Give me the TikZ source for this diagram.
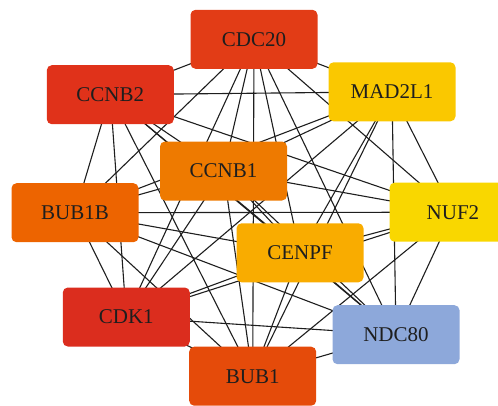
\documentclass[tikz,border=0pt]{standalone}
\usepackage{fontspec}
\setmainfont{Liberation Serif}
\usetikzlibrary{backgrounds}
\definecolor{cCDC}{RGB}{226,60,22}
\definecolor{cCCNBtwo}{RGB}{224,50,26}
\definecolor{cMAD}{RGB}{250,200,0}
\definecolor{cCCNBone}{RGB}{238,122,0}
\definecolor{cBUBB}{RGB}{237,100,0}
\definecolor{cNUF}{RGB}{249,215,0}
\definecolor{cCENPF}{RGB}{249,172,0}
\definecolor{cCDK}{RGB}{219,45,30}
\definecolor{cNDC}{RGB}{141,168,218}
\definecolor{cBUB}{RGB}{229,75,10}
\definecolor{ink}{RGB}{30,30,30}
\begin{document}
\begin{tikzpicture}[x=1pt,y=-1pt,
  gene/.style={rounded corners=5pt, minimum width=127pt, minimum height=59pt,
    inner sep=0pt, font=\fontsize{21}{25}\selectfont, text=ink},
  link/.style={line width=1.1pt, draw=ink}]
\useasboundingbox (0,0) rectangle (498,405);
\node[gene, fill=cCDC]     (CDC20)  at (254,39.3)   {CDC20};
\node[gene, fill=cCCNBtwo] (CCNB2)  at (110.3,94.7) {CCNB2};
\node[gene, fill=cMAD]     (MAD2L1) at (392,91.8)   {MAD2L1};
\node[gene, fill=cCCNBone] (CCNB1)  at (223.5,171)  {CCNB1};
\node[gene, fill=cBUBB]    (BUB1B)  at (75,212.7)   {BUB1B};
\node[gene, fill=cNUF]     (NUF2)   at (453,212.2)  {NUF2};
\node[gene, fill=cCENPF]   (CENPF)  at (300,252.8)  {CENPF};
\node[gene, fill=cCDK]     (CDK1)   at (126.3,317)  {CDK1};
\node[gene, fill=cNDC]     (NDC80)  at (396,334.7)  {NDC80};
\node[gene, fill=cBUB]     (BUB1)   at (252.7,376.2){BUB1};
\begin{scope}[on background layer]
\foreach \a [count=\i] in {CDC20,CCNB2,MAD2L1,CCNB1,BUB1B,NUF2,CENPF,CDK1,NDC80,BUB1}{
  \foreach \b [count=\j] in {CDC20,CCNB2,MAD2L1,CCNB1,BUB1B,NUF2,CENPF,CDK1,NDC80,BUB1}{
    \ifnum\j>\i \draw[link] (\a.center) -- (\b.center); \fi
  }
}
\end{scope}
\end{tikzpicture}
\end{document}
